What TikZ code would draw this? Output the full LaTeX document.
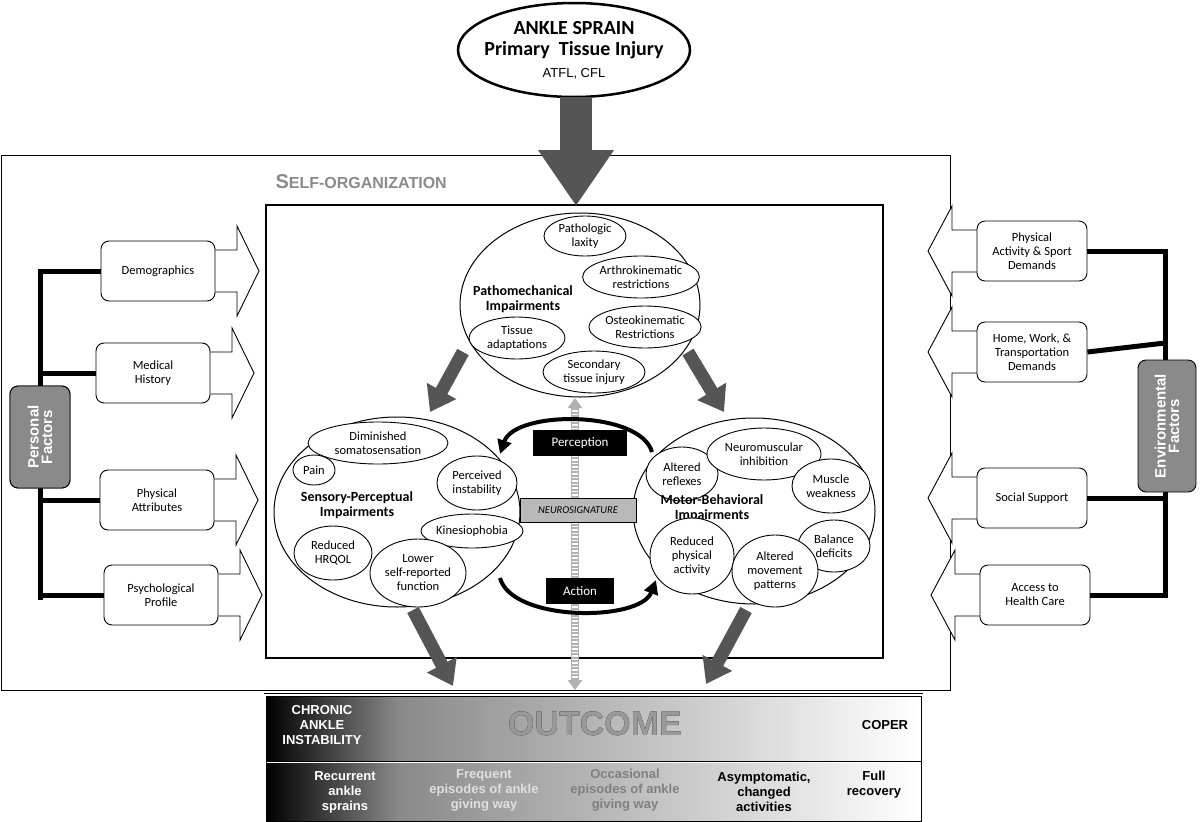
\documentclass[tikz,border=0pt]{standalone}
\usepackage{fontspec}
\setmainfont{Carlito}
\newfontfamily\arial{Liberation Sans}
\usepackage[outline]{contour}
\contourlength{1.2pt}
\usetikzlibrary{shapes.geometric,arrows.meta}
\definecolor{dg}{HTML}{555555}
\definecolor{pg}{HTML}{8A8A8A}
\begin{document}
\begin{tikzpicture}[x=1pt,y=-1pt,
  every node/.style={font=\fontsize{12.5}{14}\selectfont,align=center},
  sub/.style={draw,ellipse,inner sep=0pt,line width=0.9pt,fill=white},
  big/.style={draw,ellipse,inner sep=0pt,line width=1pt},
  ttl/.style={font=\fontsize{14}{15}\selectfont\bfseries},
  fbox/.style={draw,rounded corners=8pt,line width=0.9pt,minimum width=112pt,minimum height=60pt,fill=white},
  gbox/.style={draw,rounded corners=8pt,fill=pg,line width=0.9pt,minimum width=60pt,text=white,font=\arial\fontsize{15}{16}\selectfont\bfseries},
  garr/.style={dg,line width=13pt,-{Triangle[width=32pt,length=24pt]}},
  hol/.style={draw,line width=0.9pt,fill=white},
  brk/.style={line width=5pt},
  blk/.style={fill=black,text=white,font=\fontsize{13}{14}\selectfont}]
\useasboundingbox (0,0) rectangle (1200,822);
% top
\node[big,line width=2.5pt,minimum width=232pt,minimum height=94pt] (top) at (574,50) {};
\node[font=\fontsize{20}{22}\selectfont\bfseries] at (574,28) {ANKLE SPRAIN};
\node[font=\fontsize{20}{22}\selectfont\bfseries] at (574,50) {Primary\ \ Tissue Injury};
\node[font=\arial\fontsize{13}{14}\selectfont] at (574,74) {ATFL, CFL};
% outer boxes
\draw[line width=1pt] (1,155) rectangle (950,690);
\node[text=pg,font=\arial\fontsize{20}{22}\selectfont\bfseries,anchor=west] (so) at (272,182) {S\fontsize{16}{18}\selectfont ELF-O\fontsize{20}{22}\selectfont\fontsize{16}{18}\selectfont RGANIZATION};
\draw[line width=2.5pt] (266,205) rectangle (883,658);
\coordinate (ta) at (576,97);
\coordinate (tb) at (576,206);
\draw[garr,line width=32pt,-{Triangle[width=72pt,length=56pt]}] (ta) -- (tb);
% central line
\coordinate (ca) at (575,398); \coordinate (cb) at (575,690);
\draw[line width=8pt,gray!60,{Triangle[width=14pt,length=10pt]}-{Triangle[width=14pt,length=10pt]}] (ca) -- (cb);
\draw[line width=6pt,white,dash pattern=on 1.5pt off 2pt] (575,410) -- (575,678);
% big ellipses
\node[big,minimum width=240pt,minimum height=184pt,fill=white] (pm) at (580,305) {};
\node[big,minimum width=246pt,minimum height=190pt,fill=white] (sp) at (397,512) {};
\node[big,minimum width=242pt,minimum height=186pt,fill=white] (mb) at (754,511) {};
\node[sub,minimum width=82pt,minimum height=40pt] at (585,236) {Pathologic\\laxity};
\node[sub,minimum width=112pt,minimum height=42pt] at (641,277) {Arthrokinematic\\restrictions};
\node[ttl] at (523,299) {Pathomechanical\\Impairments};
\node[sub,minimum width=96pt,minimum height=42pt] at (517,338) {Tissue\\adaptations};
\node[sub,minimum width=112pt,minimum height=42pt] at (645,327) {Osteokinematic\\Restrictions};
\node[sub,minimum width=102pt,minimum height=42pt] at (594,372) {Secondary\\tissue injury};
\node[sub,minimum width=140pt,minimum height=42pt] at (378,443) {Diminished\\somatosensation};
\node[sub,minimum width=42pt,minimum height=30pt] at (314,470) {Pain};
\node[sub,minimum width=80pt,minimum height=54pt] at (477,483) {Perceived\\instability};
\node[ttl] at (357,505) {Sensory-Perceptual\\Impairments};
\node[sub,minimum width=102pt,minimum height=34pt] at (472,531) {Kinesiophobia};
\node[sub,minimum width=78pt,minimum height=54pt] at (333,553) {Reduced\\HRQOL};
\node[sub,minimum width=96pt,minimum height=68pt] at (418,573) {Lower\\self-reported\\function};
\node[sub,minimum width=72pt,minimum height=54pt] at (682,474) {Altered\\reflexes};
\node[sub,minimum width=114pt,minimum height=52pt] at (764,454) {Neuromuscular\\inhibition};
\node[sub,minimum width=78pt,minimum height=54pt] at (831,486) {Muscle\\weakness};
\node[ttl] at (712,508) {Motor-Behavioral\\Impairments};
\node[sub,minimum width=72pt,minimum height=52pt] at (834,546) {Balance\\deficits};
\node[sub,minimum width=84pt,minimum height=76pt] at (692,556) {Reduced\\physical\\activity};
\node[sub,minimum width=86pt,minimum height=72pt] at (775,571) {Altered\\movement\\patterns};
% perception / action
\coordinate (p1) at (652,452); \coordinate (p2) at (500,454);
\draw[line width=4pt,-{Triangle[width=14pt,length=14pt]}] (p1) .. controls (640,410) and (515,410) .. (p2);
\coordinate (a1) at (500,578); \coordinate (a2) at (656,580);
\draw[line width=4pt,-{Triangle[width=14pt,length=14pt]}] (a1) .. controls (512,622) and (640,622) .. (a2);
\node[blk,minimum width=94pt,minimum height=26pt] (per) at (580,443) {Perception};
\node[blk,minimum width=68pt,minimum height=26pt] (act) at (580,591) {Action};
\node[draw,fill=gray!55,minimum width=116pt,minimum height=24pt,font=\fontsize{10.5}{12}\selectfont\itshape] (ns) at (578,510) {NEUROSIGNATURE};
% gray arrows
\draw[garr] (463,352) -- (430,412);
\draw[garr] (688,352) -- (724,412);
\draw[garr] (413,610) -- (453,686);
\draw[garr] (746,610) -- (706,684);
% left factors
\foreach \n/\x/\y/\t in {d/158/271/Demographics,m/153/373/{Medical\\History},p/157/500/{Physical\\Attributes},s/161/595/{Psychological\\Profile}}{
  \draw[hol] (\x+55,\y-21) -- (\x+79,\y-21) -- (\x+79,\y-45) -- (\x+101,\y) -- (\x+79,\y+45) -- (\x+79,\y+21) -- (\x+55,\y+21) -- cycle;
  \node[fbox,minimum width=114pt] (\n) at (\x,\y) {\t};
}
\node[gbox,minimum height=102pt] (pf) at (40,437) {\rotatebox{90}{\shortstack{Personal\\Factors}}};
\draw[brk] (d.west) -| (40,600);
\draw[brk] (m.west) -- (40,373);
\draw[brk] (p.west) -- (40,500);
\draw[brk] (s.west) -- (37.5,595);
\node[gbox,minimum height=102pt] at (40,437) {\rotatebox{90}{\shortstack{Personal\\Factors}}};
% right factors
\foreach \n/\x/\y/\t in {e/1032/251/{Physical\\Activity \& Sport\\Demands},h/1032/352/{Home, Work, \&\\Transportation\\Demands},o/1032/498/{Social Support},c/1035/595/{Access to\\Health Care}}{
  \draw[hol] (\x-50,\y-21) -- (\x-80,\y-21) -- (\x-80,\y-45) -- (\x-104,\y) -- (\x-80,\y+45) -- (\x-80,\y+21) -- (\x-50,\y+21) -- cycle;
  \node[fbox,minimum width=110pt] (\n) at (\x,\y) {\t};
}
\draw[brk] (e.east) -| (1165,595);
\draw[brk] (h.east) -- (1165,343);
\draw[brk] (o.east) -- (1165,498);
\draw[brk] (c.east) -- (1167.5,595);
\node[gbox,minimum width=58pt,minimum height=132pt] (ef) at (1167,426) {\rotatebox{90}{\shortstack{Environmental\\Factors}}};
% outcome
\shade[left color=black,right color=pg] (266,696) rectangle (400,760);
\shade[left color=pg,right color=white] (400,696) rectangle (921,760);
\shade[left color=black,right color=pg] (266,763) rectangle (400,822);
\shade[left color=pg,right color=white] (400,763) rectangle (921,822);
\draw[line width=1pt] (264,693) -- (923,693);
\draw[line width=1pt] (266,696) rectangle (921,821);
\draw[line width=1.2pt] (266,761.5) -- (921,761.5);
\node[text=white,font=\arial\fontsize{13}{15}\selectfont\bfseries] at (322,725) {CHRONIC\\ANKLE\\INSTABILITY};
\node[font=\arial\fontsize{34}{36}\selectfont\bfseries] at (595,724) {\contour{black}{\textcolor{gray!80}{OUTCOME}}};
\node[font=\arial\fontsize{13}{15}\selectfont\bfseries] at (885,725) {COPER};
\node[text=white,font=\arial\fontsize{13}{15}\selectfont\bfseries] at (345,792) {Recurrent\\ankle\\sprains};
\node[text=gray!25,font=\arial\fontsize{13}{15}\selectfont\bfseries] at (484,790) {Frequent\\episodes of ankle\\giving way};
\node[text=gray,font=\arial\fontsize{13}{15}\selectfont\bfseries] at (625,790) {Occasional\\episodes of ankle\\giving way};
\node[font=\arial\fontsize{13}{15}\selectfont\bfseries] at (764,792) {Asymptomatic,\\changed\\activities};
\node[font=\arial\fontsize{13}{15}\selectfont\bfseries] at (874,785) {Full\\recovery};
\end{tikzpicture}
\end{document}
